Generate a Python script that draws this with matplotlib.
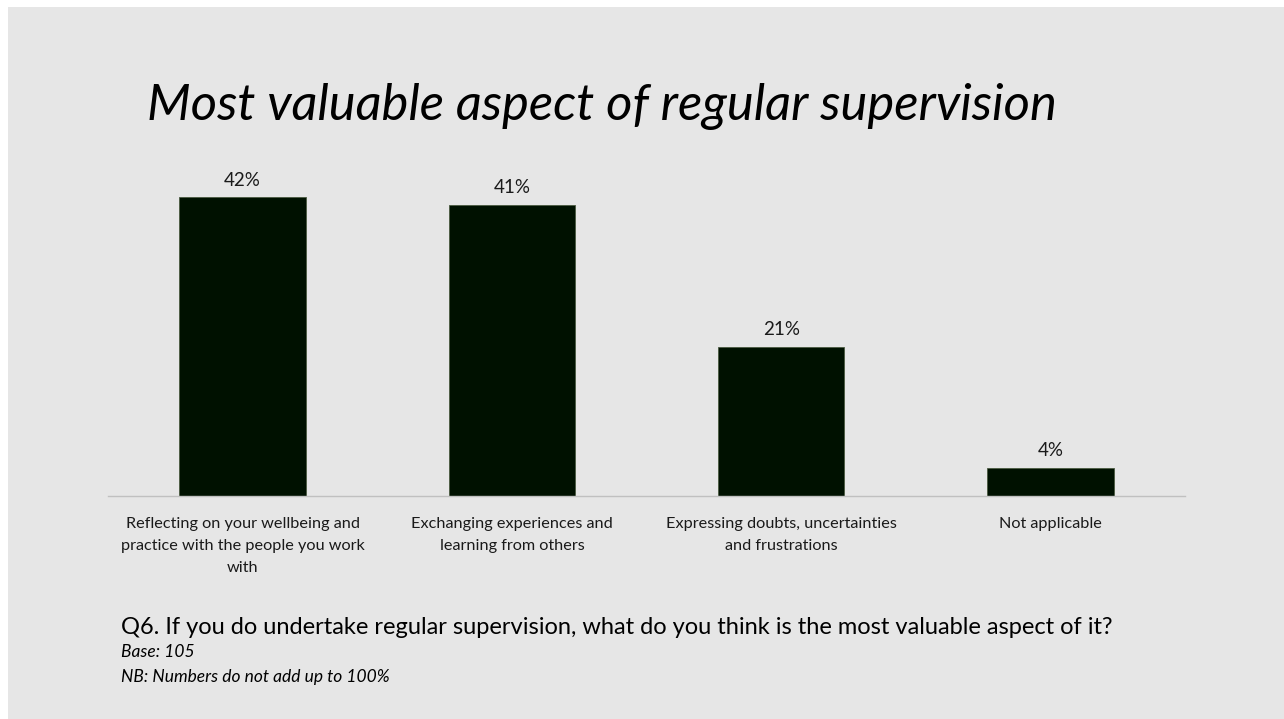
import matplotlib.pyplot as plt
from matplotlib.patches import Rectangle

# Survey data
categories = [
    "Reflecting on your wellbeing and\npractice with the people you work\nwith",
    "Exchanging experiences and\nlearning from others",
    "Expressing doubts, uncertainties\nand frustrations",
    "Not applicable",
]
values = [42, 41, 21, 4]
value_labels = ["42%", "41%", "21%", "4%"]

BG = "#e6e6e6"
BAR = "#001100"
FONT = "Lato"

W, H = 1284, 719
fig = plt.figure(figsize=(W / 100, H / 100), dpi=100)
fig.patch.set_facecolor("white")
fig.patches.append(Rectangle((8 / W, 0), 1 - 8 / W, 1 - 7 / H,
                             transform=fig.transFigure, facecolor=BG,
                             edgecolor="none", zorder=-1))

ax = fig.add_axes([108 / W, 1 - 496 / H, 1077 / W, 327 / H])
ax.set_facecolor("none")
x = range(len(values))
ax.bar(x, values, width=0.47, color=BAR, edgecolor="#4a5a40", linewidth=0.6)
for xi, v, lab in zip(x, values, value_labels):
    ax.text(xi, v + 1.2, lab, ha="center", va="bottom", fontsize=13.5,
            family=FONT, color="#1a1a1a")

ax.set_xlim(-0.5, 3.5)
ax.set_ylim(0, 46)
ax.set_xticks(list(x))
ax.set_xticklabels(categories, fontsize=11.7, family=FONT, color="#1a1a1a",
                   linespacing=1.75, va="top")
ax.tick_params(axis="x", length=0, pad=15)
ax.set_yticks([])
for s in ["top", "right", "left"]:
    ax.spines[s].set_visible(False)
ax.spines["bottom"].set_color("#c0c0c0")
ax.spines["bottom"].set_linewidth(1)

fig.text(147 / W, 1 - 107 / H, "Most valuable aspect of regular supervision",
         fontsize=36.5, style="italic", family=FONT, va="center", ha="left",
         color="black")

fig.text(121 / W, 1 - 627 / H,
         "Q6. If you do undertake regular supervision, what do you think is the most valuable aspect of it?",
         fontsize=17, family=FONT, va="center", ha="left", color="black")
fig.text(121 / W, 1 - 652 / H, "Base: 105", fontsize=12.5, style="italic",
         family=FONT, va="center", ha="left", color="black")
fig.text(121 / W, 1 - 677 / H, "NB: Numbers do not add up to 100%", fontsize=12.5,
         style="italic", family=FONT, va="center", ha="left", color="black")

fig.savefig("out.png", dpi=100, facecolor=fig.get_facecolor())
